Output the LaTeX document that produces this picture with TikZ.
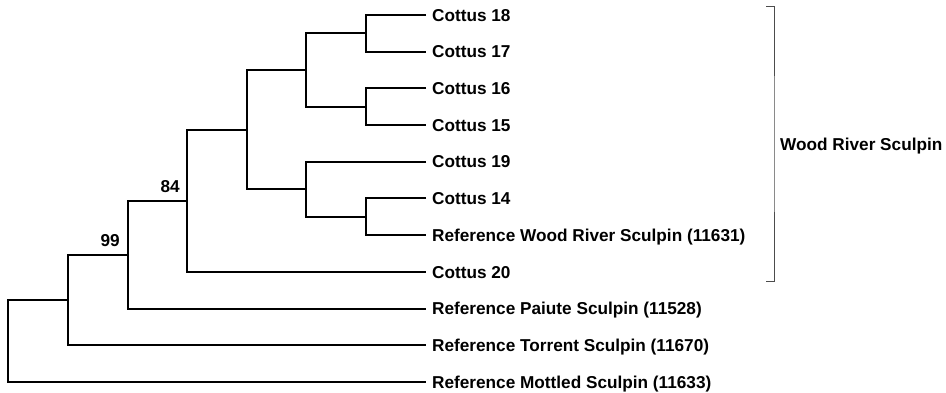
\documentclass[tikz,border=0pt]{standalone}
\usepackage{fontspec}
\setmainfont{Liberation Sans}
\usepackage{tikz}
\usetikzlibrary{positioning}
\tikzstyle{leaf} = [anchor=west, inner xsep=6pt, inner ysep=0pt, 
     text height=12.4pt, text depth=0pt, font=\bfseries\fontsize{17.2}{20}\selectfont]
\tikzstyle{support} = [inner sep=0pt, text height=12.4pt, text depth=0pt, 
     font=\bfseries\fontsize{17.2}{20}\selectfont]
\tikzstyle{branch} = [line width=2pt, line join=miter]
\tikzstyle{bracket} = [line width=1pt, black!70]

\begin{document}
\begin{tikzpicture}[x=1pt, y=-1pt]
     \useasboundingbox (0,0) rectangle (946,393);
     % Leaves
     \node [leaf] (c18) at (426,15) {Cottus 18};
     \node [leaf] (c17) at (426,51.7) {Cottus 17};
     \node [leaf] (c16) at (426,88.4) {Cottus 16};
     \node [leaf] (c15) at (426,125.1) {Cottus 15};
     \node [leaf] (c19) at (426,161.8) {Cottus 19};
     \node [leaf] (c14) at (426,198.5) {Cottus 14};
     \node [leaf] (wrs) at (426,235.2) {Reference Wood River Sculpin (11631)};
     \node [leaf] (c20) at (426,271.9) {Cottus 20};
     \node [leaf] (pai) at (426,308.6) {Reference Paiute Sculpin (11528)};
     \node [leaf] (tor) at (426,345.3) {Reference Torrent Sculpin (11670)};
     \node [leaf] (mot) at (426,382) {Reference Mottled Sculpin (11633)};

     % Internal nodes
     \coordinate (n1817) at (366,33.35);
     \coordinate (n1615) at (366,106.75);
     \coordinate (nA) at (306,70.05);
     \coordinate (n14w) at (366,216.85);
     \coordinate (nB) at (306,189.3);
     \coordinate (nC) at (247,129.7);
     \coordinate (n84) at (187,200.8);
     \coordinate (n99) at (128,254.7);
     \coordinate (nT) at (68,300);
     \coordinate (root) at (8,341);

     % Branches
     \draw [branch] (c18.west) -| (n1817) |- (c17.west);
     \draw [branch] (c16.west) -| (n1615) |- (c15.west);
     \draw [branch] (n1817) -| (nA) |- (n1615);
     \draw [branch] (c14.west) -| (n14w) |- (wrs.west);
     \draw [branch] (c19.west) -| (nB) |- (n14w);
     \draw [branch] (nA) -| (nC) |- (nB);
     \draw [branch] (nC) -| (n84) |- (c20.west);
     \draw [branch] (n84) -| (n99) |- (pai.west);
     \draw [branch] (n99) -| (nT) |- (tor.west);
     \draw [branch] (nT) -| (root) |- (mot.west);

     % Bootstrap values
     \node [support, anchor=south east, above left=8pt and 7pt of n84] (b84) {84};
     \node [support, anchor=south east, above left=8pt and 8pt of n99] (b99) {99};

     % Clade bracket
     \coordinate (btop) at (766,7);
     \coordinate (bbot) at (766,281);
     \coordinate (bmid) at (774,144);
     \draw [bracket] (btop) -| (bmid) |- (bbot);
     \node [leaf] (clade) at (bmid) {Wood River Sculpin};
\end{tikzpicture}
\end{document}
